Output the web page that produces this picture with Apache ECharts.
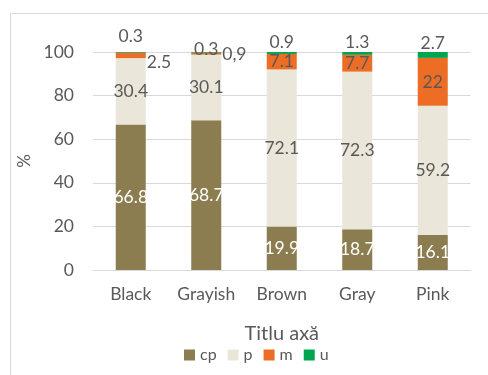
<!DOCTYPE html>
<html><head><meta charset="utf-8">
<script src="https://cdn.jsdelivr.net/npm/echarts@6/dist/echarts.min.js"></script>
<style>html,body{margin:0;padding:0;background:#fff}#c{width:488px;height:375px}</style>
</head><body><div id="c"></div>
<script>
var categories = ['Black', 'Grayish', 'Brown', 'Gray', 'Pink'];
var cp = [66.8, 68.7, 19.9, 18.7, 16.1];
var p = [30.4, 30.1, 72.1, 72.3, 59.2];
var m = [2.5, 0.9, 7.1, 7.7, 22];
var u = [0.3, 0.3, 0.9, 1.3, 2.7];
var mLabelText = ['2.5', '0,9', '7.1', '7.7', '22'];

var FONT = 'Lato, "Noto Sans", sans-serif';
var TXT = '#595959';
var FS = 17.5;

var chart = echarts.init(document.getElementById('c'), null, {renderer: 'canvas'});

var mData = m.map(function (v, i) {
  var d = {value: v};
  if (i === 0) d.label = {position: 'right', offset: [-4, 7]};
  if (i === 1) d.label = {position: 'right', offset: [-4, 1]};
  return d;
});
var uOffsets = [[0, -4], [0, 9], [0, 2], [0, 2], [0, 3]];
var uData = u.map(function (v, i) {
  return {value: v, label: {offset: uOffsets[i]}};
});

chart.setOption({
  animation: false,
  textStyle: {fontFamily: FONT},
  graphic: [{
    type: 'polyline',
    shape: {points: [[10.5, 375], [10.5, 13.5], [488, 13.5]]},
    style: {stroke: '#d9d9d9', lineWidth: 1, fill: null}
  }],
  grid: {left: 93, right: 17.5, top: 52, bottom: 105},
  legend: {
    bottom: 7, left: 179,
    itemWidth: 11, itemHeight: 11, itemGap: 11,
    icon: 'rect',
    textStyle: {color: TXT, fontSize: 16, fontFamily: FONT},
    data: ['cp', 'p', 'm', 'u']
  },
  xAxis: {
    type: 'category', data: categories,
    name: 'Titlu axă', nameLocation: 'middle', nameGap: 54,
    nameTextStyle: {color: TXT, fontSize: 20, fontFamily: FONT},
    axisLine: {lineStyle: {color: '#d9d9d9'}},
    axisTick: {show: false},
    axisLabel: {color: TXT, fontSize: FS, margin: 15, fontFamily: FONT}
  },
  yAxis: {
    type: 'value', min: 0, max: 100, interval: 20,
    name: '%', nameLocation: 'middle', nameGap: 55,
    nameTextStyle: {color: TXT, fontSize: 17, fontFamily: FONT},
    axisLine: {show: false}, axisTick: {show: false},
    axisLabel: {color: TXT, fontSize: FS, margin: 19, fontFamily: FONT},
    splitLine: {lineStyle: {color: '#d9d9d9'}}
  },
  series: [
    {name: 'cp', type: 'bar', stack: 'a', barWidth: 30, data: cp,
     itemStyle: {color: '#8b7d4f'},
     label: {show: true, position: 'inside', color: '#ffffff', fontSize: FS, fontFamily: FONT}},
    {name: 'p', type: 'bar', stack: 'a', data: p,
     itemStyle: {color: '#eae6da'},
     label: {show: true, position: 'inside', color: TXT, fontSize: FS, fontFamily: FONT}},
    {name: 'm', type: 'bar', stack: 'a', data: mData,
     itemStyle: {color: '#ed6d25'},
     label: {show: true, position: 'inside', color: TXT, fontSize: FS, fontFamily: FONT,
       formatter: function (pp) { return mLabelText[pp.dataIndex]; }}},
    {name: 'u', type: 'bar', stack: 'a', data: uData,
     itemStyle: {color: '#00a550'},
     label: {show: true, position: 'top', distance: 3, color: TXT, fontSize: FS, fontFamily: FONT}}
  ]
});
</script></body></html>
